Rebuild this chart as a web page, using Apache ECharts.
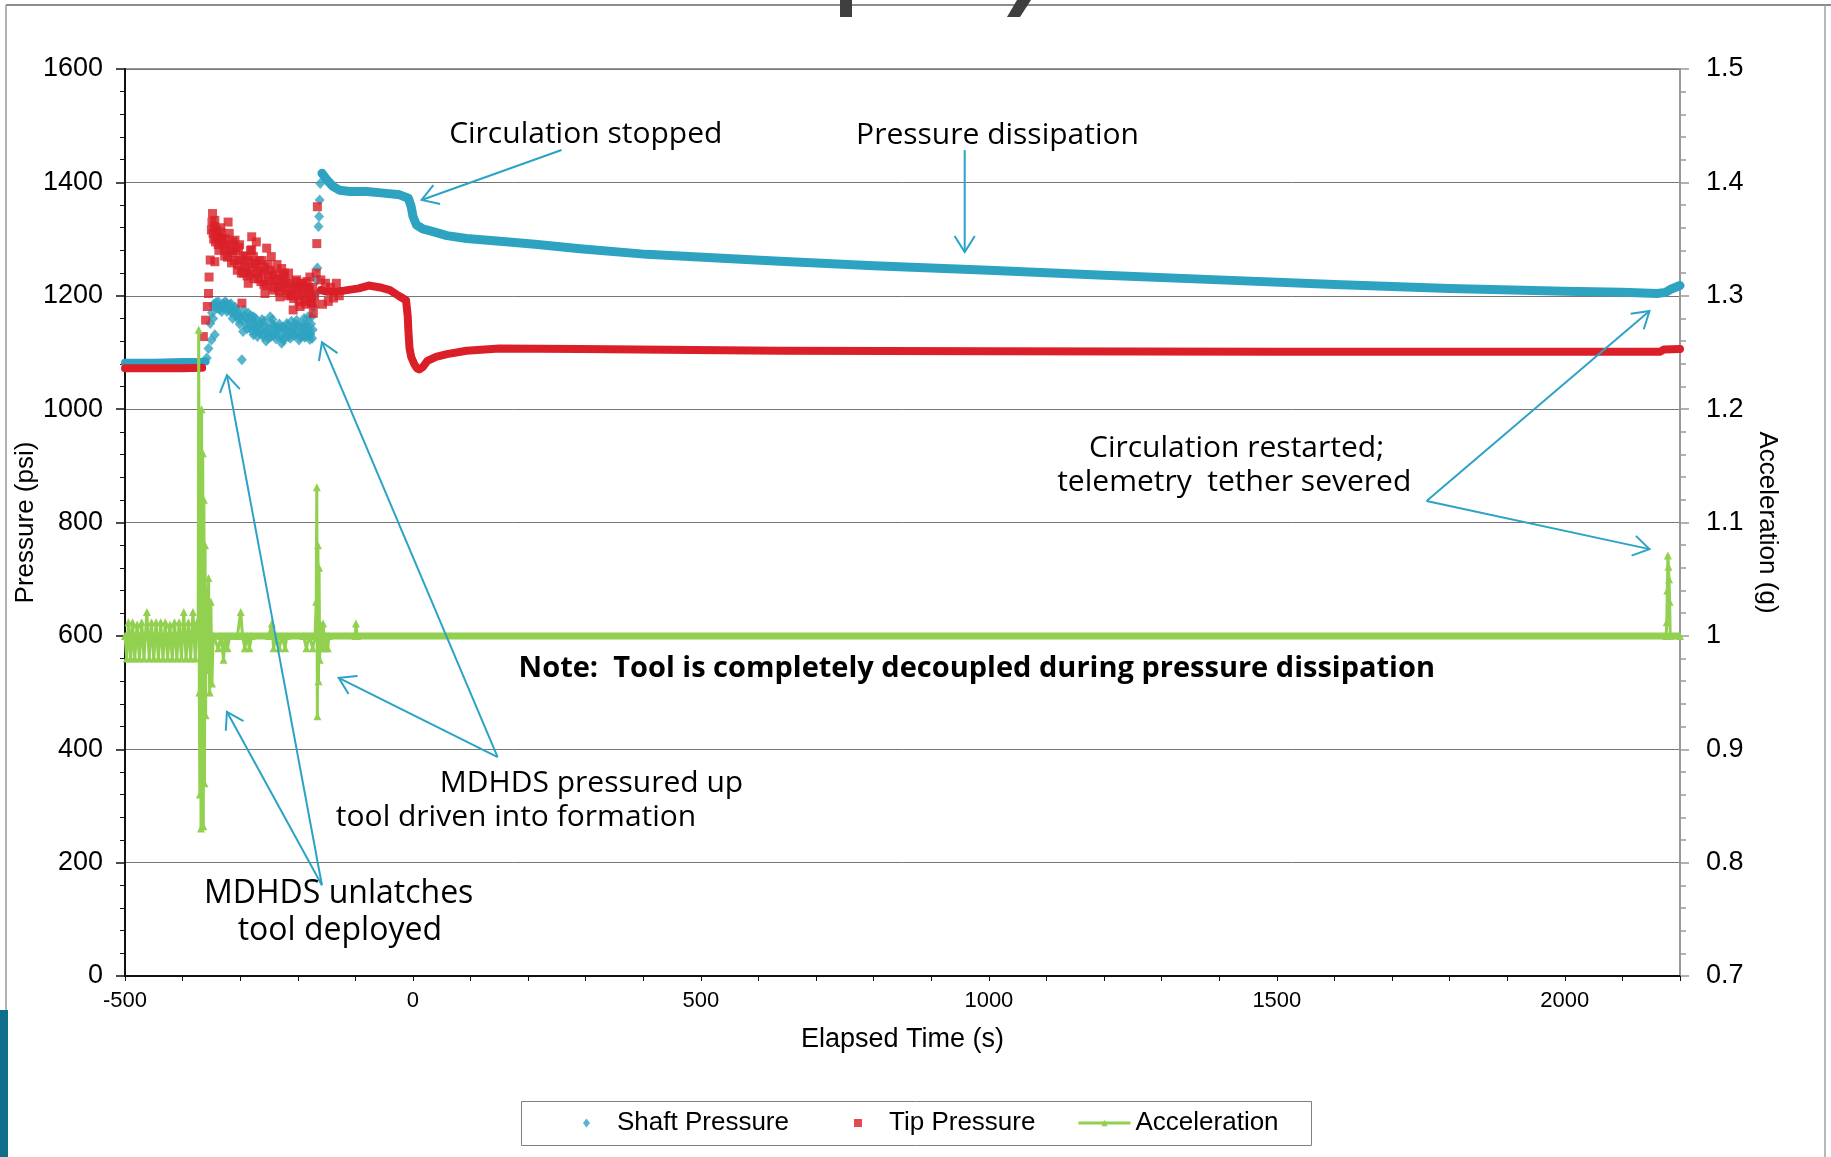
<!DOCTYPE html>
<html>
<head>
<meta charset="utf-8">
<script src="https://cdn.jsdelivr.net/npm/echarts@6/dist/echarts.min.js"></script>
<style>
  html, body { margin: 0; padding: 0; background: #ffffff; }
  #chart { width: 1831px; height: 1157px; }
</style>
</head>
<body>
<div id="chart"></div>
<script>
// ---------------- data (time in s, pressure in psi, acceleration in g) ----------------
const xTickLabels = [-500, 0, 500, 1000, 1500, 2000];

// Shaft pressure: steady before deployment
const shaftBeforeT = [-500, -450, -400, -368, -360];
const shaftBeforeP = [1082, 1082, 1083, 1083, 1084];
// Shaft pressure: scattered readings while the tool is pushed in
const shaftCloudT = [-358, -355, -352, -350, -347, -344, -344, -340, -338, -335, -332, -330, -327, -324, -321, -318,
  -315, -312, -309, -306, -303, -300, -297, -295, -294, -291, -289, -286, -283, -280, -277, -277, -274, -271, -268,
  -265, -262, -260, -257, -254, -251, -248, -245, -242, -240, -237, -234, -231, -228, -225, -222, -219, -216, -214,
  -211, -208, -205, -202, -199, -196, -193, -190, -188, -187, -185, -182, -181, -179, -177, -176, -174, -173, -170,
  -167, -166, -164, -163, -162, -161,
  -349, -346, -342, -336, -329, -326, -323, -319, -316, -313, -310, -307, -304, -301, -298, -292, -288, -285, -282,
  -279, -276, -273, -270, -267, -264, -261, -258, -255, -252, -249, -246, -244, -241, -238, -235, -232, -229, -226,
  -223, -220, -217, -213, -210, -207, -204, -201, -198, -195, -192, -189, -186, -184, -180, -178, -175];
const shaftCloudP = [1090, 1107, 1151, 1122, 1160, 1131, 1181, 1178, 1190, 1181, 1172, 1186, 1183, 1187, 1176, 1184,
  1170, 1175, 1180, 1166, 1158, 1163, 1087, 1137, 1175, 1150, 1160, 1169, 1145, 1158, 1131, 1163, 1152, 1140, 1136,
  1151, 1158, 1128, 1146, 1137, 1125, 1163, 1150, 1131, 1138, 1145, 1128, 1143, 1116, 1121, 1140, 1151, 1128, 1137,
  1155, 1145, 1132, 1157, 1148, 1127, 1138, 1151, 1127, 1145, 1137, 1163, 1130, 1123, 1150, 1163, 1140, 1181, 1202,
  1228, 1249, 1322, 1340, 1369, 1398,
  1170, 1185, 1188, 1176, 1180, 1190, 1172, 1178, 1186, 1160, 1168, 1176, 1170, 1150, 1160, 1165, 1142, 1155, 1165,
  1138, 1145, 1160, 1128, 1148, 1140, 1132, 1155, 1120, 1142, 1135, 1128, 1158, 1147, 1124, 1140, 1150, 1130, 1145,
  1126, 1135, 1148, 1125, 1140, 1130, 1150, 1135, 1122, 1145, 1130, 1160, 1128, 1150, 1140, 1132, 1125];
// Shaft pressure: peak, circulation stop and dissipation
const shaftAfterT = [-158, -149, -139, -127, -110, -80, -51, -23, -8, -3, 0, 6, 17, 35, 59, 93, 151, 212, 290, 406,
  520, 637, 800, 1000, 1200, 1400, 1600, 1800, 2000, 2100, 2160, 2175, 2185, 2200];
const shaftAfterP = [1416, 1404, 1393, 1386, 1384, 1384, 1381, 1378, 1372, 1357, 1340, 1325, 1318, 1313, 1306, 1301,
  1296, 1291, 1283, 1273, 1267, 1261, 1253, 1245, 1236, 1228, 1220, 1213, 1208, 1206, 1204, 1206, 1212, 1218];

// Tip pressure: steady before deployment
const tipBeforeT = [-500, -450, -400, -366];
const tipBeforeP = [1072, 1072, 1072, 1073];
// Tip pressure: scattered readings while the tool is pushed in
const tipCloudT = [-364, -360, -357, -355, -354, -352, -350, -348, -346, -344, -344, -341, -338, -335, -333, -330,
  -327, -324, -321, -318, -315, -312, -309, -305, -303, -300, -297, -294, -291, -289, -286, -283, -280, -280, -277,
  -275, -272, -268, -265, -262, -259, -257, -254, -251, -248, -246, -243, -240, -236, -233, -231, -228, -225, -222,
  -219, -216, -214, -211, -208, -205, -202, -199, -196, -194, -191, -188, -185, -183, -181, -179, -176, -173, -171,
  -168, -167, -166, -160, -157, -152, -147, -143, -138, -133, -128,
  -349, -347, -345, -343, -340, -337, -334, -331, -328, -325, -322, -319, -316, -313, -310, -307, -304, -301, -298,
  -295, -292, -288, -285, -282, -279, -276, -273, -270, -267, -264, -261, -258, -255, -252, -249, -244, -241, -238,
  -235, -232, -229, -226, -223, -220, -217, -213, -210, -207, -204, -201, -198, -195, -192, -189, -186, -184, -180,
  -177, -174, -172];
const tipCloudP = [1128, 1157, 1181, 1204, 1233, 1263, 1316, 1345, 1300, 1333, 1260, 1316, 1290, 1304, 1312, 1293,
  1270, 1281, 1330, 1290, 1258, 1275, 1298, 1245, 1285, 1263, 1187, 1240, 1270, 1251, 1222, 1238, 1304, 1281, 1269,
  1258, 1295, 1230, 1245, 1262, 1220, 1204, 1284, 1234, 1245, 1269, 1210, 1228, 1255, 1215, 1198, 1248, 1235, 1222,
  1210, 1240, 1204, 1200, 1175, 1215, 1228, 1200, 1181, 1216, 1222, 1193, 1204, 1190, 1215, 1233, 1187, 1169, 1200,
  1240, 1292, 1357, 1228, 1185, 1222, 1190, 1215, 1196, 1222, 1200,
  1330, 1310, 1322, 1295, 1305, 1280, 1320, 1300, 1285, 1300, 1268, 1310, 1280, 1295, 1262, 1280, 1255, 1290, 1240,
  1270, 1255, 1235, 1262, 1280, 1245, 1230, 1255, 1240, 1262, 1225, 1240, 1250, 1218, 1255, 1226, 1238, 1215, 1240,
  1226, 1208, 1230, 1215, 1240, 1225, 1200, 1222, 1212, 1195, 1225, 1210, 1190, 1222, 1205, 1215, 1185, 1225, 1210,
  1198, 1215, 1185];
// Tip pressure: after the push, circulation stop and dissipation
const tipAfterT = [-160, -150, -139, -120, -94, -77, -54, -40, -25, -12, -9, -8, -6, -3, 2, 7, 11, 17, 25, 40, 59,
  93, 150, 290, 637, 1000, 1500, 2000, 2165, 2172, 2200];
const tipAfterP = [1210, 1207, 1207, 1209, 1213, 1218, 1214, 1210, 1200, 1192, 1163, 1139, 1108, 1092, 1080, 1072,
  1070, 1074, 1085, 1092, 1097, 1103, 1107, 1106, 1103, 1102, 1101, 1101, 1101, 1105, 1106];

// Acceleration: vibration record
const accelT = [-500, -497, -494, -490, -487, -483, -479, -475, -471, -467, -462, -458, -454, -450, -446, -442, -438,
  -434, -430, -426, -422, -418, -414, -410, -406, -402, -398, -394, -390, -386, -382, -378, -375,
  -373, -372, -371, -370, -369, -368, -367, -366, -365, -364, -363, -362, -361, -360, -359, -357, -355, -353, -351,
  -349, -347,
  -338, -333, -329, -326, -322, -318, -305, -299, -296, -292, -288, -284, -280, -250, -245, -242, -238, -232, -228,
  -222, -219,
  -190, -185, -180, -174, -170, -168, -167, -166, -165, -164, -163, -162, -161, -159, -156, -153, -150, -148, -146,
  -100, -99, -97,
  2176, 2177, 2178, 2179, 2180, 2181, 2182, 2183, 2200];
const accelG = [1.0, 0.98, 1.012, 0.98, 1.012, 0.98, 1.01, 0.98, 1.012, 0.98, 1.021, 0.98, 1.012, 0.98, 1.012, 0.98,
  1.012, 0.98, 1.012, 0.98, 1.01, 0.98, 1.012, 0.98, 1.012, 0.98, 1.021, 0.98, 1.012, 0.98, 1.021, 0.98, 1.012,
  1.0, 1.27, 0.95, 0.86, 1.09, 0.83, 1.2, 0.9, 1.161, 0.832, 1.12, 0.87, 1.08, 0.93, 1.04, 0.97, 1.051, 0.95, 1.03,
  0.958, 1.0,
  0.989, 1.0, 0.979, 1.0, 0.989, 1.0, 1.0, 1.021, 1.0, 0.989, 1.0, 0.989, 1.0, 1.0, 1.011, 0.989, 1.0, 0.989, 1.0,
  0.989, 1.0,
  1.0, 0.989, 1.0, 0.989, 1.0, 1.03, 1.131, 0.929, 1.08, 0.96, 1.06, 0.979, 1.011, 0.989, 1.011, 0.989, 1.0, 0.989,
  1.0,
  1.0, 1.011, 1.0,
  1.0, 1.012, 1.04, 1.071, 1.061, 1.05, 1.03, 1.0, 1.0];
// Acceleration: quiet reading held for the whole record
const accelRestT = [-500, 2200];
const accelRestG = [1.0, 1.0];

// ---------------- annotations (placed in time / pressure units) ----------------
const noteTexts = [
  { text: 'Circulation stopped', t: 300, p: 1485, size: 30 },
  { text: 'Pressure dissipation', t: 1015, p: 1482, size: 30 },
  { text: 'Circulation restarted;', t: 1430, p: 931, size: 30 },
  { text: 'telemetry  tether severed', t: 1426, p: 870, size: 30 },
  { text: 'MDHDS pressured up', t: 310, p: 340, size: 30 },
  { text: 'tool driven into formation', t: 179, p: 279, size: 30 },
  { text: 'MDHDS unlatches', t: -129, p: 145, size: 32 },
  { text: 'tool deployed', t: -127, p: 79, size: 32 }
];
const boldNote = { text: 'Note:  Tool is completely decoupled during pressure dissipation', t: 979, p: 542 };
const arrowLines = [
  { from: [258, 1457], to: [15, 1369] },
  { from: [958, 1457], to: [958, 1277] },
  { from: [1760, 838], to: [2147, 1173] },
  { from: [1760, 838], to: [2147, 753] },
  { from: [147, 386], to: [-158, 1118] },
  { from: [147, 386], to: [-129, 526] },
  { from: [-158, 160], to: [-323, 1060] },
  { from: [-158, 160], to: [-323, 466] }
];

// ---------------- styling ----------------
const SHAFT = '#2EA3C1';
const TIP = '#DA1F28';
const ACCEL = '#92D050';
const NOTE = '#2CA3C6';
const AXIS_FONT = '"Liberation Sans", Arial, sans-serif';
const NOTE_FONT = '"Open Sans", sans-serif';

const zip = (xs, ys) => xs.map((x, i) => [x, ys[i]]);
const legendText = { fontFamily: AXIS_FONT, fontSize: 26, color: '#000' };

const option = {
  animation: false,
  backgroundColor: '#ffffff',
  grid: {
    left: 125, right: 151, top: 69, bottom: 181,
    outerBoundsMode: 'none', containLabel: false,
    show: true, borderColor: '#9a9a9a', borderWidth: 2, backgroundColor: 'transparent'
  },
  legend: [
    {
      left: 583, top: 1110, padding: 0, itemWidth: 7, itemHeight: 9, selectedMode: false,
      textStyle: Object.assign({ padding: [0, 0, 0, 22] }, legendText),
      data: [{ name: 'Shaft Pressure', icon: 'diamond' }]
    },
    {
      left: 854, top: 1110, padding: 0, itemWidth: 8, itemHeight: 8, selectedMode: false,
      textStyle: Object.assign({ padding: [0, 0, 0, 22] }, legendText),
      data: [{ name: 'Tip Pressure', icon: 'rect' }]
    },
    {
      left: 1077, top: 1110, padding: 0, itemWidth: 52, itemHeight: 8, selectedMode: false,
      lineStyle: { width: 3 },
      textStyle: legendText,
      data: [{ name: 'Acceleration', lineStyle: { width: 3 } }]
    }
  ],
  xAxis: {
    type: 'value', min: -500, max: 2200, interval: 100,
    name: 'Elapsed Time (s)', nameLocation: 'middle', nameGap: 50, nameMoveOverlap: false,
    nameTextStyle: { fontFamily: AXIS_FONT, fontSize: 27, color: '#000' },
    axisLine: { onZero: false, lineStyle: { color: '#111', width: 2 } },
    axisTick: { show: true, length: 5, lineStyle: { color: '#111', width: 1 } },
    axisLabel: {
      fontFamily: AXIS_FONT, fontSize: 22, color: '#000', margin: 14,
      formatter: v => (xTickLabels.indexOf(v) >= 0 ? String(v) : '')
    },
    splitLine: { show: false }
  },
  yAxis: [
    {
      type: 'value', min: 0, max: 1600, interval: 200,
      name: 'Pressure (psi)', nameLocation: 'middle', nameGap: 86, nameRotate: 90, nameMoveOverlap: false,
      nameTextStyle: { fontFamily: AXIS_FONT, fontSize: 26, color: '#000' },
      axisLine: { show: true, onZero: false, lineStyle: { color: '#111', width: 2 } },
      axisTick: { show: true, length: 9, lineStyle: { color: '#111', width: 1.5 } },
      minorTick: { show: true, splitNumber: 5, length: 5, lineStyle: { color: '#111', width: 1 } },
      axisLabel: { fontFamily: AXIS_FONT, fontSize: 27, color: '#000', margin: 22, formatter: v => String(v) },
      splitLine: { show: true, lineStyle: { color: '#767676', width: 1 } }
    },
    {
      type: 'value', min: 0.7, max: 1.5, interval: 0.1, position: 'right',
      name: 'Acceleration (g)', nameLocation: 'middle', nameGap: 74, nameRotate: -90, nameMoveOverlap: false,
      nameTextStyle: { fontFamily: AXIS_FONT, fontSize: 26, color: '#000' },
      axisLine: { show: true, onZero: false, lineStyle: { color: '#999', width: 2 } },
      axisTick: { show: true, length: 9, lineStyle: { color: '#999', width: 1.5 } },
      minorTick: { show: true, splitNumber: 5, length: 6, lineStyle: { color: '#999', width: 1.5 } },
      axisLabel: { fontFamily: AXIS_FONT, fontSize: 27, color: '#000', margin: 26 },
      splitLine: { show: false }
    }
  ],
  series: [
    {
      name: 'Shaft Pressure', type: 'scatter', symbol: 'diamond', symbolSize: [10, 11],
      itemStyle: { color: SHAFT }, data: zip(shaftCloudT, shaftCloudP), z: 3
    },
    {
      name: 'Shaft Pressure', type: 'line', showSymbol: false, symbol: 'none',
      lineStyle: { color: SHAFT, width: 8, cap: 'round', join: 'round' }, itemStyle: { color: SHAFT },
      data: zip(shaftBeforeT, shaftBeforeP), z: 3
    },
    {
      name: 'Shaft Pressure', type: 'line', showSymbol: false, symbol: 'none',
      lineStyle: { color: SHAFT, width: 9, cap: 'round', join: 'round' }, itemStyle: { color: SHAFT },
      data: zip(shaftAfterT, shaftAfterP), z: 3
    },
    {
      name: 'Tip Pressure', type: 'scatter', symbol: 'rect', symbolSize: 9,
      itemStyle: { color: TIP }, data: zip(tipCloudT, tipCloudP), z: 4
    },
    {
      name: 'Tip Pressure', type: 'line', showSymbol: false, symbol: 'none',
      lineStyle: { color: TIP, width: 8, cap: 'round', join: 'round' }, itemStyle: { color: TIP },
      data: zip(tipBeforeT, tipBeforeP), z: 4
    },
    {
      name: 'Tip Pressure', type: 'line', showSymbol: false, symbol: 'none',
      lineStyle: { color: TIP, width: 8, cap: 'round', join: 'round' }, itemStyle: { color: TIP },
      data: zip(tipAfterT, tipAfterP), z: 4
    },
    {
      name: 'Acceleration', type: 'line', yAxisIndex: 1,
      symbol: 'triangle', symbolSize: 8, showSymbol: true, showAllSymbol: true,
      lineStyle: { color: ACCEL, width: 3 }, itemStyle: { color: ACCEL },
      data: zip(accelT, accelG), z: 6
    },
    {
      name: 'Acceleration', type: 'line', yAxisIndex: 1, showSymbol: false, symbol: 'none',
      lineStyle: { color: ACCEL, width: 7 }, itemStyle: { color: ACCEL },
      data: zip(accelRestT, accelRestG), z: 5
    }
  ]
};

const chart = echarts.init(document.getElementById('chart'));
chart.setOption(option);

// ---------------- callouts, legend box, frame ----------------
const px = (t, p) => chart.convertToPixel({ xAxisIndex: 0, yAxisIndex: 0 }, [t, p]);

const elements = [
  // slide frame
  { type: 'line', silent: true, z: 1, shape: { x1: 6, y1: 5, x2: 1831, y2: 5 }, style: { stroke: '#8c8c8c', lineWidth: 2 } },
  { type: 'line', silent: true, z: 1, shape: { x1: 6, y1: 5, x2: 6, y2: 1010 }, style: { stroke: '#9a9a9a', lineWidth: 1.5 } },
  { type: 'line', silent: true, z: 1, shape: { x1: 1825, y1: 5, x2: 1825, y2: 1157 }, style: { stroke: '#a0a0a0', lineWidth: 1.5 } },
  { type: 'rect', silent: true, z: 1, shape: { x: 0, y: 1010, width: 8, height: 147 }, style: { fill: '#0f6e89' } },
  // descenders of the slide heading above
  { type: 'rect', silent: true, z: 2, shape: { x: 840, y: 0, width: 12, height: 17 }, style: { fill: '#3f3f3f' } },
  { type: 'polygon', silent: true, z: 2, shape: { points: [[1017, 0], [1031, 0], [1020, 17], [1007, 17]] }, style: { fill: '#3f3f3f' } },
  // legend box
  { type: 'rect', silent: true, z: 1, shape: { x: 521.5, y: 1101.5, width: 790, height: 44 }, style: { fill: '#fff', stroke: '#7f7f7f', lineWidth: 1 } }
];

noteTexts.forEach(n => {
  const [x, y] = px(n.t, n.p);
  elements.push({
    type: 'text', silent: true, z: 20,
    style: {
      text: n.text, x: x, y: y, fill: '#000',
      font: 'normal ' + n.size + 'px ' + NOTE_FONT,
      align: 'center', verticalAlign: 'middle', textAlign: 'center', textVerticalAlign: 'middle'
    }
  });
});
{
  const [x, y] = px(boldNote.t, boldNote.p);
  elements.push({
    type: 'text', silent: true, z: 20,
    style: {
      text: boldNote.text, x: x, y: y, fill: '#000',
      font: 'bold 29px ' + NOTE_FONT,
      align: 'center', verticalAlign: 'middle', textAlign: 'center', textVerticalAlign: 'middle'
    }
  });
}

arrowLines.forEach(a => {
  const [x1, y1] = px(a.from[0], a.from[1]);
  const [x2, y2] = px(a.to[0], a.to[1]);
  const back = Math.atan2(y1 - y2, x1 - x2);
  const spread = 0.56, len = 19;
  const arm1 = [x2 + len * Math.cos(back + spread), y2 + len * Math.sin(back + spread)];
  const arm2 = [x2 + len * Math.cos(back - spread), y2 + len * Math.sin(back - spread)];
  elements.push({ type: 'line', silent: true, z: 19, shape: { x1: x1, y1: y1, x2: x2, y2: y2 }, style: { stroke: NOTE, lineWidth: 2 } });
  elements.push({ type: 'polyline', silent: true, z: 19, shape: { points: [arm1, [x2, y2], arm2] }, style: { stroke: NOTE, lineWidth: 2, fill: null } });
});

chart.setOption({ graphic: { elements: elements } });
</script>
</body>
</html>
